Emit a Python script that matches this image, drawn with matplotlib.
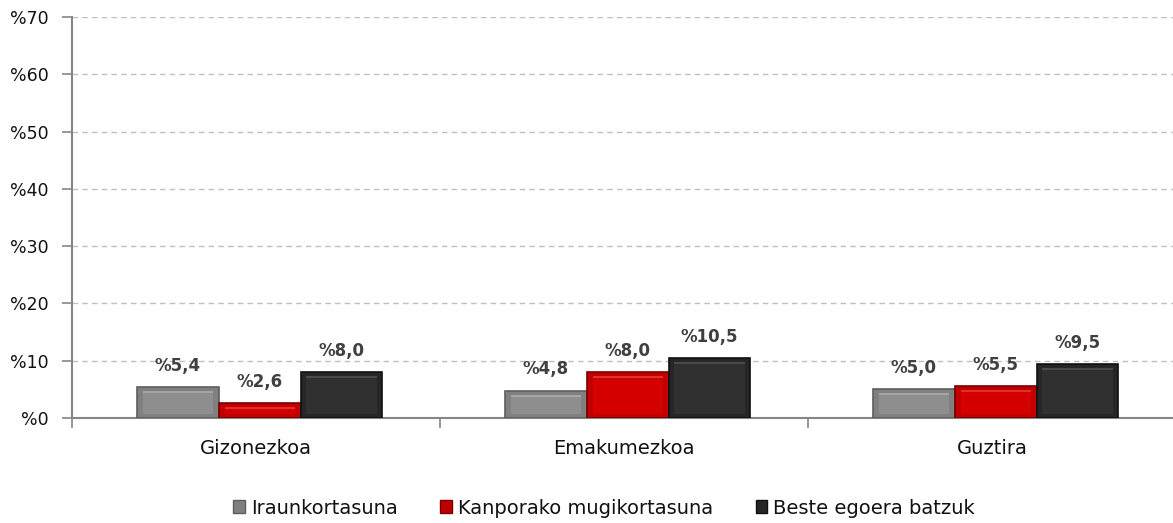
import matplotlib
matplotlib.use("Agg")
import matplotlib.pyplot as plt
import numpy as np
from matplotlib.patches import Patch

categories = ["Gizonezkoa", "Emakumezkoa", "Guztira"]
series_names = ["Iraunkortasuna", "Kanporako mugikortasuna", "Beste egoera batzuk"]
iraunkortasuna = [5.4, 4.8, 5.0]
kanporako = [2.6, 8.0, 5.5]
beste = [8.0, 10.5, 9.5]
yticks = [0, 10, 20, 30, 40, 50, 60, 70]
ytick_labels = ["%0", "%10", "%20", "%30", "%40", "%50", "%60", "%70"]

plt.rcParams['font.family'] = ['DejaVu Sans']

fig = plt.figure(figsize=(11.73, 5.23), dpi=100)
ax = fig.add_axes([72/1173, 1-418/523, (1176-72)/1173, (418-17)/523])

series = [iraunkortasuna, kanporako, beste]
face = ["#808080", "#c00000", "#262626"]
edge = ["#5e5e5e", "#7a0000", "#101010"]
inner = ["#8e8e8e", "#d40000", "#303030"]
top_hl = ["#a6a6a6", "#e03030", "#4a4a4a"]

x = np.arange(len(categories))
w = 0.222
offsets = [-w + 0.01, 0.01, w + 0.01]
ppu = 401/70.0  # pixels per data unit

for i, vals in enumerate(series):
    xs = x + offsets[i]
    ax.bar(xs, vals, width=w, color=face[i], edgecolor=edge[i], linewidth=1.2, zorder=3)
    m = 4/ppu
    ih = [max(v - 2*m, 0.05) for v in vals]
    ax.bar(xs, ih, width=w*0.86, bottom=m, color=inner[i], linewidth=0, zorder=4)
    ax.bar(xs, [0.35]*len(vals), width=w*0.86, bottom=[v - m - 0.35 for v in vals],
           color=top_hl[i], linewidth=0, zorder=5)
    for xx, v in zip(xs, vals):
        ax.text(xx, v + 2.1, ("%" + f"{v:.1f}").replace(".", ","), ha="center", va="bottom",
                fontsize=12, fontweight="bold", color="#404040", zorder=6)

ax.set_xlim(-0.5, 2.5)
ax.set_ylim(0, 70)
ax.set_yticks(yticks)
ax.set_yticklabels(ytick_labels, fontsize=12.5, color="#111111")
ax.yaxis.grid(True, linestyle=(0, (4, 3)), color="#bfbfbf", linewidth=1, zorder=0)
ax.set_axisbelow(True)

ax.set_xticks(x)
ax.set_xticklabels(categories, fontsize=14, color="#111111")
ax.set_xticks([-0.5, 0.5, 1.5, 2.5], minor=True)
ax.tick_params(axis="x", which="major", length=0, pad=15)
ax.tick_params(axis="x", which="minor", length=7, color="#868686", width=1.2)
ax.tick_params(axis="y", length=7, color="#868686", width=1.2, pad=10)

for s in ["top", "right"]:
    ax.spines[s].set_visible(False)
for s in ["left", "bottom"]:
    ax.spines[s].set_color("#868686")
    ax.spines[s].set_linewidth(1.5)

handles = [Patch(facecolor=face[i], edgecolor=edge[i]) for i in range(3)]
fig.legend(handles, series_names, loc="center", bbox_to_anchor=(604/1173, 1-508/523),
           ncol=3, frameon=False, fontsize=14, handlelength=0.6, handleheight=0.6,
           handletextpad=0.3, columnspacing=2.2, labelcolor="#111111")

fig.savefig("out.png", dpi=100)
